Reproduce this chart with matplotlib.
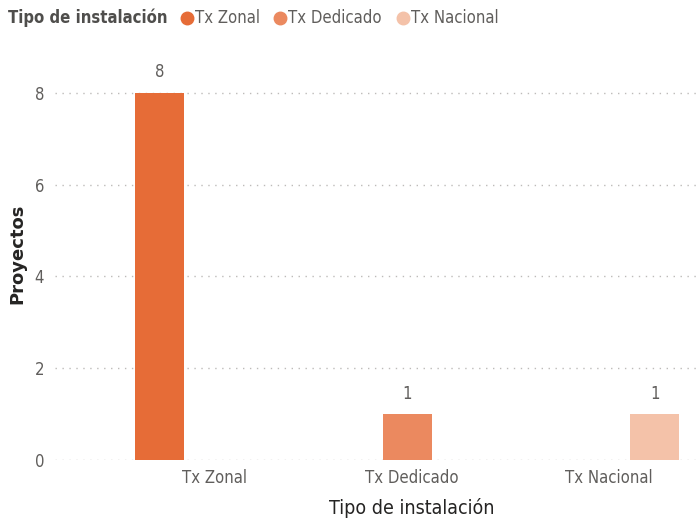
import matplotlib
matplotlib.use("Agg")
import matplotlib.pyplot as plt
from matplotlib.lines import Line2D

categories = ["Tx Zonal", "Tx Dedicado", "Tx Nacional"]
values = [8, 1, 1]
colors = ["#E66C37", "#EB895F", "#F4C2A9"]
yticks = [0, 2, 4, 6, 8]

plt.rcParams['font.family'] = ['DejaVu Sans']
plt.rcParams['font.stretch'] = 'condensed'

fig = plt.figure(figsize=(6.98, 5.2), dpi=100)
ax = fig.add_axes([0.079, 0.115, 0.921, 0.795])

n = len(categories)
bw = 0.249
slot = 0.256
for i, (c, v, col) in enumerate(zip(categories, values, colors)):
    x = i + (i - 1) * slot - 0.025
    ax.bar(x, v, width=bw, color=col, zorder=3)
    ax.text(x, v + 0.25, str(v), ha='center', va='bottom', fontsize=12, color='#605E5C')

ax.set_xticks(range(n))
ax.set_xticklabels(categories, fontsize=12, color='#605E5C')
ax.set_yticks(yticks)
ax.set_yticklabels([str(t) for t in yticks], fontsize=12, color='#605E5C')
ax.set_xlim(-0.81, 2.45)
ax.set_ylim(0, 9)
ax.tick_params(length=0, pad=8)
ax.tick_params(axis='x', pad=6)
for s in ax.spines.values():
    s.set_visible(False)
ax.grid(axis='y', linestyle=(0, (1, 4)), color='#BDBBB9', linewidth=1, zorder=0)
ax.set_axisbelow(True)

ax.set_ylabel("Proyectos", fontsize=13, color='#252423', labelpad=6, fontweight='bold',
              fontstretch='normal')
ax.set_xlabel("Tipo de instalación", fontsize=14, color='#252423', va='center')
ax.xaxis.set_label_coords((412 - 55) / 643, -(508 - 460) / 413)

# legend row
ly = 1 - 18 / 520
fig.text(8 / 698, ly, "Tipo de instalación", fontsize=12, fontweight='bold', color='#4F4E4C',
         va='center', ha='left')
marker_x = [187, 280, 403]
for mx, c, col in zip(marker_x, categories, colors):
    fig.add_artist(Line2D([mx / 698], [ly], transform=fig.transFigure, marker='o',
                          markersize=9, color=col, linestyle=''))
    fig.text((mx + 8) / 698, ly, c, fontsize=12, color='#605E5C', va='center', ha='left')

fig.savefig("out.png", dpi=100)
